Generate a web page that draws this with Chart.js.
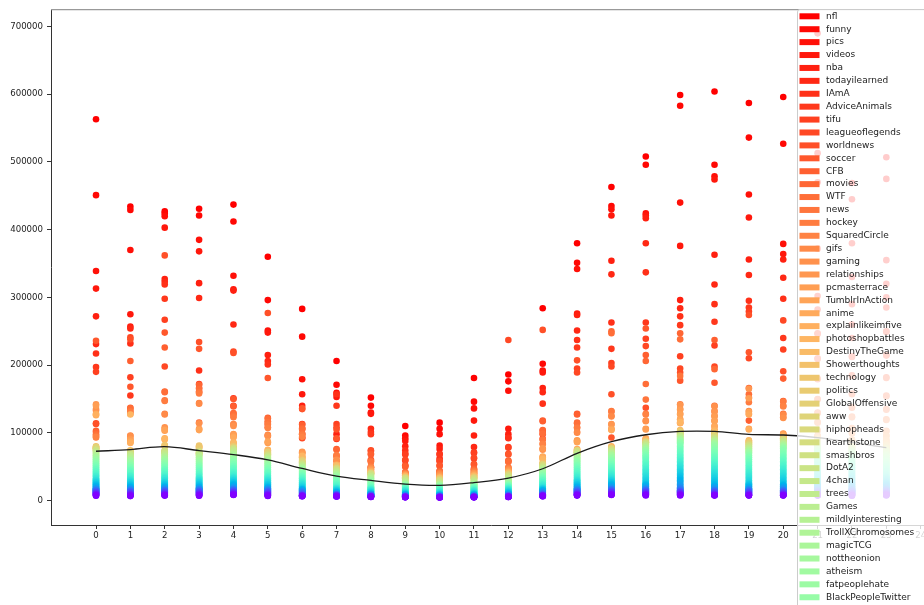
<!DOCTYPE html>
<html>
<head>
<meta charset="utf-8">
<title>Comments per hour by subreddit</title>
<script src="https://cdn.jsdelivr.net/npm/chart.js@4.4.1/dist/chart.umd.min.js"></script>
<style>
  html, body { margin: 0; padding: 0; background: #fff; overflow: hidden; }
  #wrap { width: 935px; height: 605px; }
</style>
</head>
<body>
<div id="wrap"><canvas id="chart" width="935" height="605"></canvas></div>
<script>
// subreddits, in legend order (biggest first)
const subreddits = [
  "nfl","funny","pics","videos","nba","todayilearned","IAmA","AdviceAnimals","tifu","leagueoflegends",
  "worldnews","soccer","CFB","movies","WTF","news","hockey","SquaredCircle","gifs","gaming",
  "relationships","pcmasterrace","TumblrInAction","anime","explainlikeimfive","photoshopbattles","DestinyTheGame","Showerthoughts","technology","politics",
  "GlobalOffensive","aww","hiphopheads","hearthstone","smashbros","DotA2","4chan","trees","Games","mildlyinteresting",
  "TrollXChromosomes","magicTCG","nottheonion","atheism","fatpeoplehate","BlackPeopleTwitter","pokemon","Music","science","AskMen",
  "AskWomen","Bitcoin","MMA","wow","fantasyfootball","Fitness","KotakuInAction","Jokes","woahdude","europe",
  "ukpolitics","Christianity","buildapc","india","canada","unitedkingdom","personalfinance","Minecraft","2007scape","Cricket",
  "starcraft","tf2","skyrim","Eve","guns","cars","pokemontrades","Android","conspiracy","television",
  "books","WritingPrompts","CasualConversation","LifeProTips","food","AskHistorians","history","space","gameofthrones","StarWars",
  "FIFA","Warthunder","runescape","baseball","formula1","reactiongifs","interestingasfuck","OldSchoolCool","dataisbeautiful","Frugal"
];

const hours = [0,1,2,3,4,5,6,7,8,9,10,11,12,13,14,15,16,17,18,19,20,21,22,23];
const xTicks = [0,1,2,3,4,5,6,7,8,9,10,11,12,13,14,15,16,17,18,19,20,21,22,23,24];
const yTicks = [0,100000,200000,300000,400000,500000,600000,700000];

// comments per subreddit at each hour, in thousands (same order as subreddits)
const h00 = [563,451,339,313,272,231,217,197,190,114,113,236,103,101,98,96,93,94,135,133,142,140,128,126,127,79,77,80,78,76,77,79,
  76,75,74,73,72,70,69,67,66,64,63,61,60,58,57,55,54,52,51,49,48,46,45,43,42,40,39,37,36,35,33,32,31,30,29,28,27,26,25,24,23,22,21,20,19,18,17.5,17,16.5,16,15.5,15,14.5,14,13.5,13,12.5,12,11.5,11,10.5,10,9.5,9,8.5,8,7.5,7];
const h01 = [434,429,370,275,257,254,232,155,182,241,238,168,206,137,136,132,131,128,96,95,91,90,86,87,85,127,74,73,72,71,72,70,
  72,71,70,68,67,66,64,63,61,60,59,57,56,55,53,52,50,49,48,46,45,44,42,41,40,38,37,36,35,33,32,31,30,29,28,27,26,25,24,23,22,21,20,19,18.5,18,17,16.5,16,15.5,15,14.5,14,13.5,13,12.5,12,11.5,11,10.5,10,9.5,9,8.5,8,7.5,7,6.5];
const h02 = [427,424,420,403,327,323,319,298,267,198,362,248,226,161,160,148,147,128,127,108,106,103,104,92,90,91,81,80,82,72,73,71,
  74,73,72,71,69,68,66,65,63,62,61,59,58,56,55,53,52,50,49,47,46,45,43,42,40,39,38,36,35,34,33,32,30,29,28,27,26,25,24,23,22,21,20,19.5,19,18,17.5,17,16.5,16,15.5,15,14.5,14,13.5,13,12.5,12,11.5,11,10.5,10,9.5,9,8.5,8,7.5,7.2];
const h03 = [431,421,385,368,321,299,192,172,166,161,234,224,115,171,165,160,158,144,143,114,106,105,104,80,79,78,70,69,81,77,70,68,
  73,72,71,70,69,67,66,64,63,61,60,58,57,55,54,52,51,49,48,46,45,43,42,40,39,38,36,35,34,33,32,31,30,29,28,27,26,25,24,23,22,21,20,19,18.5,18,17.5,17,16.5,16,15.5,15,14.5,14,13.5,13,12.5,12,11.5,11,10.5,10,9.5,9,8.5,8,7.5,7];
const h04 = [437,412,332,312,310,260,151,140,96,220,218,150,139,129,128,125,123,113,112,110,98,97,94,93,86,85,84,79,78,80,77,76,
  78,77,76,75,74,72,71,69,68,66,65,63,62,60,59,57,56,54,53,51,50,48,47,45,44,42,41,39,38,36,35,34,33,32,31,30,29,28,27,26,25,24,23,22,21,20,19,18,17.5,17,16.5,16,15.5,15,14.5,14,13.5,13,12.5,12,11.5,11,10.5,10,9.5,9,8.5,8];
const h05 = [360,296,251,248,215,206,201,113,108,96,277,181,122,117,121,116,112,107,97,95,86,85,87,74,73,75,69,70,68,72,71,69,
  68,67,66,65,64,63,62,61,60,58,57,55,54,52,51,49,48,46,45,43,42,41,40,38,37,36,35,34,33,32,31,30,29,28,27,26,25,24,23,22,21,20,19,18.5,18,17.5,17,16.5,16,15.5,15,14.5,14,13.5,13,12.5,12,11.5,11,10.5,10,9.5,9,8.5,8,7.5,7,6.8];
const h06 = [283,242,179,157,140,113,106,98,93,92,135,136,112,107,105,99,97,94,71,70,72,69,64,65,63,66,62,60,58,57,59,56,
  56,55,54,53,52,51,50,49,48,47,46,45,44,43,42,41,40,39,38,37,36,35,34,33,32,31,30,29,28,27,26,25,24,23,22,21,20,19,18,17.5,17,16.5,16,15.5,15,14.5,14,13.5,13,12.5,12,11.5,11,10.5,10,9.5,9,8.5,8,7.8,7.6,7.4,7.2,7,6.8,6.6,6.4,6.2];
const h07 = [206,171,159,153,98,91,157,140,113,108,105,92,76,75,66,65,67,59,58,60,52,51,53,49,50,48,52,50,49,48,47,47,
  47,46,45,44,43,42,41,40,39,38,37,36,35,34,33,32,31,30,29,28,27,26,25,24,23,22,21,20,19,18.5,18,17.5,17,16.5,16,15.5,15,14.5,14,13.5,13,12.5,12,11.5,11,10.5,10,9.8,9.6,9.4,9.2,9,8.8,8.6,8.4,8.2,8,7.8,7.6,7.4,7.2,7,6.8,6.6,6.4,6.2,6,5.8];
const h08 = [152,140,130,128,49,106,101,98,60,74,73,69,68,59,58,57,50,49,48,47,46,45,44,43,42,42,41,41,40,40,39,39,
  40,39,38,37,36,35,34,33,32,31,30,29,28,27,26,25,24,23,22,21,20,19.5,19,18.5,18,17.5,17,16.5,16,15.5,15,14.5,14,13.5,13,12.5,12,11.5,11,10.5,10,9.8,9.6,9.4,9.2,9,8.8,8.6,8.4,8.2,8,7.8,7.6,7.4,7.2,7,6.8,6.6,6.4,6.2,6,5.9,5.8,5.7,5.6,5.5,5.4,5.3];
const h09 = [110,96,92,88,80,59,74,69,68,60,52,51,50,42,41,40,40,39,39,38,38,37,37,36,36,35,35,34,34,34,33,33,
  33,32,31,30,29,28,27,26,25,24.5,24,23.5,23,22.5,22,21.5,21,20.5,20,19.5,19,18.5,18,17.5,17,16.5,16,15.5,15,14.5,14,13.5,13,12.5,12,11.5,11,10.5,10,9.7,9.4,9.1,8.8,8.5,8.2,8,7.8,7.6,7.4,7.2,7,6.8,6.6,6.4,6.2,6,5.9,5.8,5.7,5.6,5.5,5.4,5.3,5.2,5.1,5,4.9,4.8];
const h10 = [115,106,98,81,76,62,69,68,59,58,52,51,44,43,42,41,40,40,39,38,37,36,35,34,34,33,33,32,32,31,31,30,
  30,29,28,27,26,25,24.5,24,23.5,23,22.5,22,21.5,21,20.5,20,19.5,19,18.5,18,17.5,17,16.5,16,15.5,15,14.5,14,13.5,13,12.5,12,11.5,11,10.5,10,9.7,9.4,9.1,8.8,8.5,8.2,8,7.8,7.6,7.4,7.2,7,6.8,6.6,6.4,6.2,6,5.9,5.8,5.7,5.6,5.5,5.4,5.3,5.2,5.1,5,4.9,4.8,4.7,4.6,4.5];
const h11 = [181,146,136,118,96,79,62,71,70,63,54,53,47,46,45,44,43,42,41,40,40,39,38,37,37,36,35,35,34,34,33,33,
  32,31,30,29,28,27,26,25,24.5,24,23.5,23,22.5,22,21.5,21,20.5,20,19.5,19,18.5,18,17.5,17,16.5,16,15.5,15,14.5,14,13.5,13,12.5,12,11.5,11,10.5,10,9.7,9.4,9.1,8.8,8.5,8.2,8,7.8,7.6,7.4,7.2,7,6.8,6.6,6.4,6.2,6,5.9,5.8,5.7,5.6,5.5,5.4,5.3,5.2,5.1,5,4.9,4.8,4.7];
const h12 = [186,176,162,106,98,93,92,79,78,237,69,68,59,58,57,49,48,47,46,45,44,43,42,42,41,41,40,40,39,39,38,38,
  37,36,35,34,33,32,31,30,29,28,27,26,25,24.5,24,23.5,23,22.5,22,21.5,21,20.5,20,19.5,19,18.5,18,17.5,17,16.5,16,15.5,15,14.5,14,13.5,13,12.5,12,11.5,11,10.5,10,9.7,9.4,9.1,8.8,8.5,8.2,8,7.8,7.6,7.4,7.2,7,6.8,6.6,6.4,6.2,6,5.9,5.8,5.7,5.6,5.5,5.4,5.3,5.2];
const h13 = [284,202,192,189,166,160,143,103,98,91,252,118,117,104,99,90,84,83,76,75,77,64,63,65,62,61,56,55,54,54,53,53,
  52,51,50,49,48,47,46,45,44,43,42,41,40,39,38,37,36,35,34,33,32,31,30,29,28,27,26,25,24,23,22,21,20,19,18.5,18,17.5,17,16.5,16,15.5,15,14.5,14,13.5,13,12.5,12,11.5,11,10.5,10,9.7,9.4,9.1,8.8,8.5,8.2,8,7.8,7.6,7.4,7.2,7,6.8,6.6,6.4,6.2];
const h14 = [380,351,342,276,274,251,237,226,195,189,207,128,127,115,114,108,107,101,100,88,87,89,86,76,75,74,73,72,71,71,70,70,
  74,72,71,70,69,68,67,66,64,63,62,60,59,58,56,55,53,52,50,49,47,46,44,43,41,40,38,37,35,34,32,31,30,29,28,27,26,25,24,23,22,21,20,19,18,17.5,17,16.5,16,15.5,15,14.5,14,13.5,13,12.5,12,11.5,11,10.5,10,9.6,9.2,8.8,8.4,8,7.6,7.2];
const h15 = [463,435,430,421,354,334,263,224,203,198,157,93,64,250,247,132,131,125,124,113,112,106,105,104,80,79,78,78,77,77,77,76,
  76,75,74,73,72,71,70,69,68,67,66,64,63,62,60,59,57,56,54,53,51,50,48,47,45,44,42,41,39,38,36,35,33,32,31,30,29,28,27,26,25,24,23,22,21,20,19,18,17.5,17,16.5,16,15.5,15,14.5,14,13.5,13,12.5,12,11.5,11,10.5,10,9.5,9,8.5,8];
const h16 = [508,496,424,421,417,380,337,263,239,228,137,254,215,206,172,149,128,127,118,117,106,105,91,92,90,89,88,87,86,86,87,85,
  86,85,84,83,82,81,80,79,78,77,76,75,74,73,71,70,68,67,65,64,62,60,58,56,54,52,50,48,46,44,42,40,38,36,34,32,30,28,26,25,24,23,22,21,20,19,18,17.5,17,16.5,16,15.5,15,14.5,14,13.5,13,12.5,12,11.5,11,10.5,10,9.5,9,8.5,8,7.5];
const h17 = [599,583,440,376,296,284,272,259,213,195,189,177,115,247,238,184,142,135,128,120,141,134,127,119,114,116,104,103,102,101,100,100,
  99,98,97,96,95,94,93,92,91,90,89,88,87,86,85,84,82,80,78,76,74,72,70,68,66,64,62,60,58,56,54,52,50,48,46,44,42,40,38,36,34,32,30,28,26,24,22,20,19,18,17,16,15,14.5,14,13.5,13,12.5,12,11.5,11,10.5,10,9.5,9,8.5,8,7.5];
const h18 = [604,496,479,474,363,319,290,264,229,198,103,174,237,194,140,132,125,118,110,139,131,124,117,109,104,102,101,100,99,98,97,96,
  94,93,92,91,90,89,88,87,86,85,84,83,82,80,78,76,74,72,70,68,66,64,62,60,58,56,54,52,50,48,46,44,42,40,38,36,34,32,30,28,26,24,22,21,20,19,18,17,16,15.5,15,14.5,14,13.5,13,12.5,12,11.5,11,10.5,10,9.5,9,8.5,8,7.8,7.6,7.4];
const h19 = [587,536,452,418,356,333,295,285,279,210,274,219,118,166,157,152,145,132,128,106,165,151,131,127,105,89,88,87,86,85,84,83,
  82,81,80,79,78,77,76,75,74,73,72,71,70,69,67,66,64,63,61,60,58,56,54,52,50,48,46,44,42,40,38,36,34,32,30,28,26,25,24,23,22,21,20,19,18,17.5,17,16.5,16,15.5,15,14.5,14,13.5,13,12.5,12,11.5,11,10.5,10,9.5,9,8.5,8,7.8,7.6,7.4];
const h20 = [596,527,379,364,356,329,298,240,223,266,191,147,180,140,128,123,146,139,127,122,99,98,97,96,95,94,93,92,92,91,91,90,
  90,89,88,87,86,85,84,83,82,81,80,79,78,77,76,74,72,70,68,66,64,62,60,58,56,54,52,50,48,46,44,42,40,38,36,34,32,30,28,26,24,23,22,21,20,19,18,17,16,15.5,15,14.5,14,13.5,13,12.5,12,11.5,11,10.5,10,9.5,9,8.5,8,7.8,7.6,7.4];
const h21 = [690,513,470,372,302,282,247,246,210,209,180,179,150,149,130,129,116,115,104,103,96,95,94,93,92,91,91,90,90,89,88,87,
  85,84,83,82,81,80,79,78,77,76,75,74,73,72,71,70,68,66,64,62,60,58,56,54,52,50,48,46,44,42,40,38,36,34,32,30,28,26,25,24,23,22,21,20,19,18,17,16.5,16,15.5,15,14.5,14,13.5,13,12.5,12,11.5,11,10.5,10,9.5,9,8.5,8,7.8,7.6,7.4];
const h22 = [469,445,380,330,290,260,240,213,212,185,184,158,157,138,137,124,123,107,106,100,99,90,89,88,87,86,85,84,83,82,81,80,
  79,78,77,76,75,74,73,72,71,70,69,68,67,66,64,63,61,60,58,57,55,54,52,51,49,48,46,45,43,42,40,39,37,36,34,33,31,30,28,27,25,24,22,21,20,19,18,17,16.5,16,15.5,15,14.5,14,13.5,13,12.5,12,11.5,11,10.5,10,9.5,9,8.5,8,7.5,7];
const h23 = [507,475,355,320,300,285,250,249,215,214,182,181,155,154,135,134,120,119,103,102,96,95,90,89,86,85,84,82,80,79,78,77,
  76,75,74,73,72,71,69,68,66,65,63,62,60,59,57,56,54,53,51,50,48,47,45,44,42,41,39,38,36,35,34,33,32,31,30,29,28,27,26,25,24,23,22,21,20,19,18,17.5,17,16.5,16,15.5,15,14.5,14,13.5,13,12.5,12,11.5,11,10.5,10,9.5,9,8.5,8,7.5];

// mean over all subreddits per hour, in thousands (black curve)
const meanK = [72.7,75.2,79.5,73.7,67.8,60,47.3,36,29.7,24.3,22.4,26.4,33.1,46.9,69.7,86.9,97.1,102,102,97.6,96.7,93,86,78];

const K = 1000;
const byHour = [h00,h01,h02,h03,h04,h05,h06,h07,h08,h09,h10,h11,h12,h13,h14,h15,h16,h17,h18,h19,h20,h21,h22,h23];
byHour.forEach((a,j)=>{ if(a.length !== subreddits.length) console.warn("hour " + j + " has " + a.length); });

// matplotlib "rainbow" colormap
function rainbow(t){
  const r = Math.min(1, Math.abs(2*t - 0.5));
  const g = Math.sin(Math.PI*t);
  const b = Math.cos(Math.PI*t/2);
  return "rgb(" + Math.round(r*255) + "," + Math.round(g*255) + "," + Math.round(b*255) + ")";
}
const colors = subreddits.map((s,i)=> rainbow(1 - i/(subreddits.length - 1)));

const datasets = subreddits.map((name,i)=>({
  label: name,
  data: hours.map((h,j)=>({ x: h, y: byHour[j][i]*K })),
  pointBackgroundColor: colors[i],
  pointBorderWidth: 0,
  pointRadius: 3.3,
  showLine: false,
  order: subreddits.length - i   // later series on top, like matplotlib
}));
datasets.push({
  label: "mean",
  data: hours.map((h,j)=>({ x: h, y: meanK[j]*K })),
  showLine: true,
  borderColor: "#1a1a1a",
  borderWidth: 1.3,
  pointRadius: 0,
  tension: 0.35,
  order: -1
});

// top spine + legend box drawn over the plot
const overlay = {
  id: "overlay",
  afterDraw(chart){
    const ctx = chart.ctx, a = chart.chartArea;
    ctx.save();
    ctx.strokeStyle = "#999"; ctx.lineWidth = 1.2;
    ctx.beginPath(); ctx.moveTo(a.left, a.top + 0.5); ctx.lineTo(a.right, a.top + 0.5); ctx.stroke();

    const x0 = 797.5, y0 = 9.5, step = 12.91;
    ctx.beginPath();
    ctx.roundRect(x0, y0, 150, step*subreddits.length + 10, 2.5);
    ctx.fillStyle = "rgba(255,255,255,0.8)"; ctx.fill();
    ctx.strokeStyle = "#cccccc"; ctx.lineWidth = 1; ctx.stroke();

    ctx.font = '9px "DejaVu Sans"';
    ctx.textBaseline = "middle";
    subreddits.forEach((name,i)=>{
      const y = 16.3 + step*i;
      if(y > chart.height + 10) return;
      ctx.fillStyle = colors[i];
      ctx.fillRect(799.5, y - 3, 20, 6);
      ctx.fillStyle = "#222";
      ctx.fillText(name, 826, y);
    });
    ctx.restore();
  }
};

Chart.defaults.font.family = '"DejaVu Sans", sans-serif';

new Chart(document.getElementById("chart"), {
  type: "scatter",
  data: { datasets },
  options: {
    responsive: false,
    animation: false,
    devicePixelRatio: 1,
    events: [],
    layout: { padding: { top: 5, right: 3, left: 0, bottom: 0 } },
    plugins: { legend: { display: false }, tooltip: { enabled: false } },
    scales: {
      x: {
        type: "linear", min: -1.31, max: 24.3,
        afterBuildTicks: s => { s.ticks = xTicks.map(v=>({ value: v })); },
        afterFit: s => { s.height = 80; },
        grid: { drawOnChartArea: false, drawTicks: true, tickLength: 4, color: "#333" },
        border: { color: "#333", width: 1 },
        ticks: { padding: 2, color: "#222", font: { size: 8.6 }, autoSkip: false, maxRotation: 0, callback: v => String(v) }
      },
      y: {
        type: "linear", min: -36200, max: 725700,
        afterBuildTicks: s => { s.ticks = yTicks.map(v=>({ value: v })); },
        afterFit: s => { s.width = 51; },
        grid: { drawOnChartArea: false, drawTicks: true, tickLength: 4, color: "#333" },
        border: { color: "#333", width: 1 },
        ticks: { padding: 4, color: "#222", font: { size: 8.6 }, callback: v => String(v) }
      }
    }
  },
  plugins: [overlay]
});
</script>
</body>
</html>
